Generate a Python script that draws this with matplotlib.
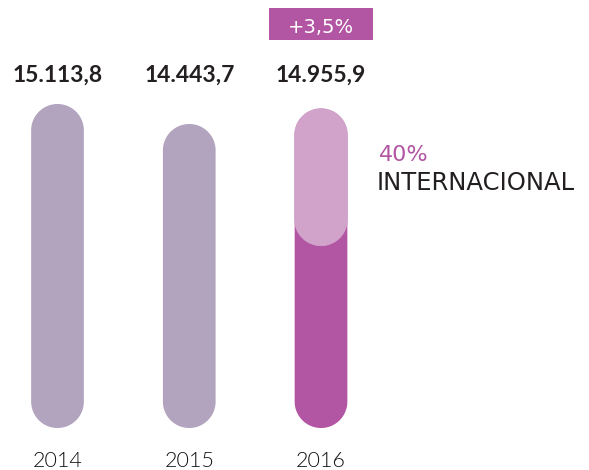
import numpy as np
import matplotlib
matplotlib.use("Agg")
import matplotlib.pyplot as plt
from matplotlib.patches import Rectangle, Polygon
from matplotlib.transforms import blended_transform_factory

years = ["2014", "2015", "2016"]
totals = [15113.8, 14443.7, 14955.9]
total_labels = ["15.113,8", "14.443,7", "14.955,9"]
growth_label = "+3,5%"
intl_share = 0.40
intl_pct_label = "40%"
intl_name = "INTERNACIONAL"

GREY = "#b2a3be"
MAGENTA = "#b255a3"
PINK = "#d1a3cb"
DARK = "#231f20"

BASE = 4258.0          # visual baseline of the capsules
W = 0.40               # bar width in category units

fig = plt.figure(figsize=(5.89, 4.70), dpi=100)
ax = fig.add_axes([0, 0, 1, 1])
ax.set_xlim(-0.4364, 4.034)
ax.set_ylim(2851, 18598)
ax.axis("off")

fig.canvas.draw()
px_x = ax.transData.transform((1, 0))[0] - ax.transData.transform((0, 0))[0]
px_y = ax.transData.transform((0, 1))[1] - ax.transData.transform((0, 0))[1]
aspect = px_x / px_y
ry = (W / 2) * aspect   # capsule cap radius in value units


def capsule(xc, y0, y1, color, z=2, lw=0):
    t_top = np.linspace(0, np.pi, 60)
    t_bot = np.linspace(np.pi, 2 * np.pi, 60)
    xs = np.concatenate([xc + W / 2 * np.cos(t_top), xc + W / 2 * np.cos(t_bot)])
    ys = np.concatenate([(y1 - ry) + ry * np.sin(t_top), (y0 + ry) + ry * np.sin(t_bot)])
    ax.add_patch(Polygon(np.column_stack([xs, ys]), closed=True, fc=color,
                         ec=color if lw else "none", lw=lw, zorder=z))


trans = blended_transform_factory(ax.transData, ax.transAxes)

for i, (yr, val, lab) in enumerate(zip(years, totals, total_labels)):
    last = i == len(years) - 1
    capsule(i, BASE, val, MAGENTA if last else GREY)
    if last:
        seg_bottom = val - intl_share * (val - BASE) - 0.35 * ry
        capsule(i, seg_bottom, val, PINK, z=3, lw=0.6)
    ax.text(i, 0.826, lab, transform=trans, ha="center", va="baseline",
            fontsize=16.5, fontweight="bold", family="Lato", color=DARK)
    ax.text(i, 0.0064, yr, transform=trans, ha="center", va="baseline",
            fontsize=15.5, fontweight=300, family="Lato", color="#111111")

# growth badge above the last bar
last_i = len(years) - 1
bw = 0.789
ax.add_patch(Rectangle((last_i - bw / 2, 1 - 40 / 470), bw, 32 / 470,
                       transform=trans, fc=MAGENTA, ec="none", zorder=4))
ax.text(last_i, 1 - 33 / 470, growth_label, transform=trans, ha="center",
        va="baseline", fontsize=14, color="white", family="DejaVu Sans", zorder=5)

# international annotation
ax.text(2.44, 1 - 161 / 470, intl_pct_label, transform=trans, ha="left",
        va="baseline", fontsize=16, color=MAGENTA, family="DejaVu Sans")
ax.text(2.425, 1 - 190 / 470, intl_name, transform=trans, ha="left",
        va="baseline", fontsize=17.5, color=DARK, family="DejaVu Sans")

fig.savefig("out.png", dpi=100)
